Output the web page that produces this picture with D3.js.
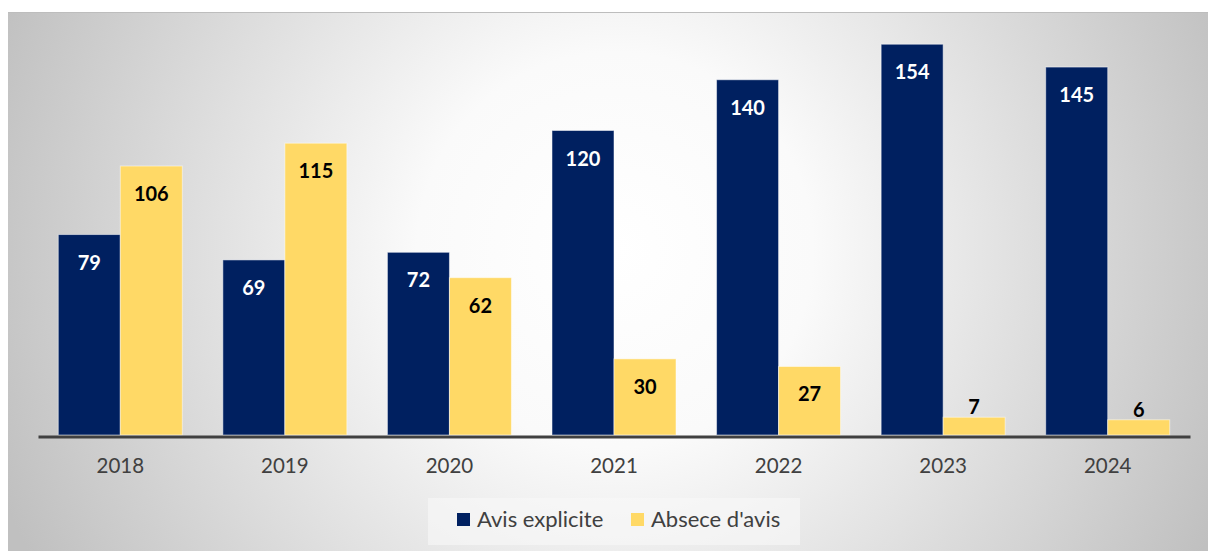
<!DOCTYPE html>
<html>
<head>
<meta charset="utf-8">
<script src="https://cdn.jsdelivr.net/npm/d3@7"></script>
<style>
  body { margin: 0; background: #fff; }
  text { font-family: Lato, "Open Sans", sans-serif; }
</style>
</head>
<body>
<script>
// data
var years = ['2018', '2019', '2020', '2021', '2022', '2023', '2024'];
var seriesNames = ['Avis explicite', "Absece d'avis"];
var avisExplicite = [79, 69, 72, 120, 140, 154, 145];
var absenceAvis = [106, 115, 62, 30, 27, 7, 6];
var colors = ['#002060', '#FFD966'];
var labelColors = ['#ffffff', '#000000'];

var width = 1208, height = 551;
var svg = d3.select('body').append('svg')
    .attr('width', width)
    .attr('height', height);

// background gradient
var defs = svg.append('defs');
var grad = defs.append('radialGradient')
    .attr('id', 'bg')
    .attr('gradientUnits', 'userSpaceOnUse')
    .attr('cx', 615).attr('cy', 250).attr('r', 660);
grad.append('stop').attr('offset', '0%').attr('stop-color', '#ffffff');
grad.append('stop').attr('offset', '30%').attr('stop-color', '#fafafa');
grad.append('stop').attr('offset', '100%').attr('stop-color', '#c0c0c0');

svg.append('rect')
    .attr('x', 8).attr('y', 12)
    .attr('width', width - 8).attr('height', height - 12)
    .attr('fill', 'url(#bg)');
svg.append('line')
    .attr('x1', 8).attr('x2', width)
    .attr('y1', 12.5).attr('y2', 12.5)
    .attr('stroke', '#bdbdbd').attr('stroke-width', 1);

// scales
var x0 = d3.scaleBand()
    .domain(years)
    .range([38, 1190]);
var x1 = d3.scaleBand()
    .domain([0, 1])
    .range([0, x0.bandwidth()])
    .paddingOuter(0.327);
var y = d3.scaleLinear()
    .domain([0, 160])
    .range([435, 29]);

var rows = years.map(function (yr, i) {
    return { year: yr, values: [avisExplicite[i], absenceAvis[i]] };
});

var groups = svg.selectAll('g.year')
    .data(rows)
    .enter().append('g')
    .attr('class', 'year')
    .attr('transform', function (d) { return 'translate(' + x0(d.year) + ',0)'; });

groups.selectAll('rect')
    .data(function (d) { return d.values; })
    .enter().append('rect')
    .attr('x', function (d, i) { return x1(i); })
    .attr('y', function (d) { return y(d); })
    .attr('width', x1.bandwidth())
    .attr('height', function (d) { return y(0) - y(d); })
    .attr('fill', function (d, i) { return colors[i]; })
    .attr('stroke', 'rgba(255,255,255,0.5)')
    .attr('stroke-width', 1);

groups.selectAll('text.val')
    .data(function (d) { return d.values; })
    .enter().append('text')
    .attr('class', 'val')
    .attr('x', function (d, i) { return x1(i) + x1.bandwidth() / 2; })
    .attr('y', function (d) {
        var h = y(0) - y(d);
        return h < 40 ? y(d) - 3 : y(d) + 35;
    })
    .attr('text-anchor', 'middle')
    .attr('font-size', 20)
    .attr('font-weight', 'bold')
    .attr('fill', function (d, i) { return labelColors[i]; })
    .text(function (d) { return d; });

// x axis
var xAxis = svg.append('g')
    .attr('transform', 'translate(0,436.5)')
    .call(d3.axisBottom(x0).tickSize(0).tickPadding(22));
xAxis.select('.domain')
    .attr('stroke', '#404040')
    .attr('stroke-width', 3);
xAxis.selectAll('text')
    .attr('font-size', 20.5)
    .attr('fill', '#404040')
    .style('font-family', 'Lato, "Open Sans", sans-serif');

// legend
svg.append('rect')
    .attr('x', 428).attr('y', 498)
    .attr('width', 372).attr('height', 47)
    .attr('fill', '#f8f8f8')
    .attr('fill-opacity', 0.6);

var legendX = [457, 631];
var legend = svg.selectAll('g.legend')
    .data(seriesNames)
    .enter().append('g')
    .attr('class', 'legend')
    .attr('transform', function (d, i) { return 'translate(' + legendX[i] + ',513)'; });
legend.append('rect')
    .attr('width', 13).attr('height', 13)
    .attr('fill', function (d, i) { return colors[i]; });
legend.append('text')
    .attr('x', 20).attr('y', 14)
    .attr('font-size', 22)
    .attr('fill', '#404040')
    .text(function (d) { return d; });
</script>
</body>
</html>
